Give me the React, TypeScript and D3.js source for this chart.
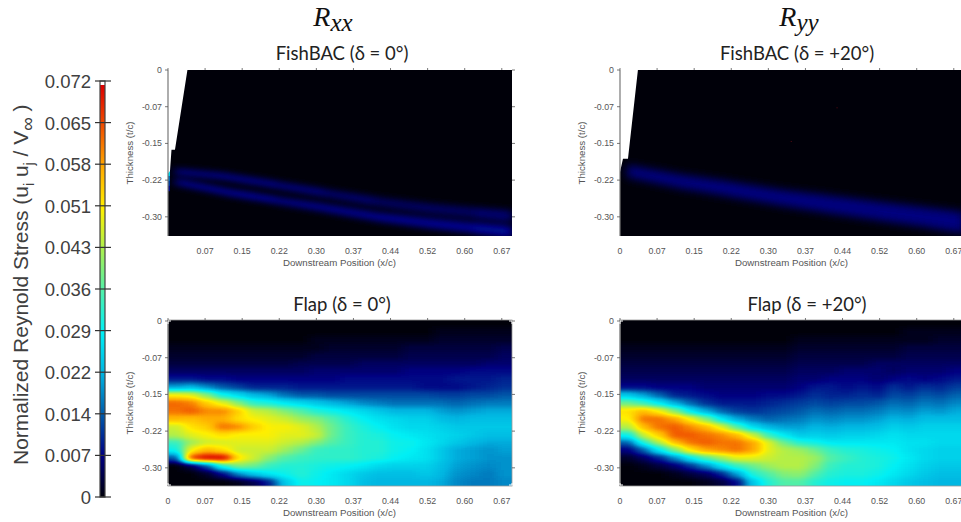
import React from "react";
import * as d3 from "d3";

// ---------- data (values in units of 0.001 normalized Reynolds stress) ----------
const colorbarTickLabels = ["0", "0.007", "0.014", "0.022", "0.029", "0.036", "0.043", "0.051", "0.058", "0.065", "0.072"];
const xTickLabels = ["0", "0.07", "0.15", "0.22", "0.30", "0.37", "0.44", "0.52", "0.60", "0.67"];
const yTickLabels = ["0", "-0.07", "-0.15", "-0.22", "-0.30"];
const tickStep = 0.0745;
const colormap = [
  [0, 0, 10], [0, 0, 130], [0, 90, 170], [0, 180, 225], [0, 240, 245], [80, 240, 170],
  [170, 240, 80], [255, 240, 0], [255, 170, 0], [240, 80, 0], [220, 0, 0],
];

const flapZero = [
  [0,0,0,0,0,0,0,0,0,0,0,0,0,0,0,0,0,0,0,0,0,0],
  [0,0,0,0,0,0,0,0,0,0,0,0,0,0,0,0,0,1,1,1,1,1],
  [0,0,0,0,0,0,0,0,0,1,1,1,1,1,1,1,1,2,2,2,2,2],
  [1,1,1,1,1,1,1,1,1,1,2,2,2,2,2,3,3,3,3,3,3,4],
  [2,2,2,2,2,2,2,2,2,3,3,3,3,3,3,4,4,4,4,4,4,5],
  [3,3,3,3,3,3,3,3,4,4,4,4,5,5,5,5,5,5,5,5,6,6],
  [5,5,5,5,5,5,5,5,5,6,6,6,6,6,6,7,7,7,7,8,8,8],
  [9,9,8,8,7,7,7,7,7,7,7,8,8,8,8,8,8,8,9,9,9,10],
  [20,22,18,14,12,10,10,10,9,9,9,9,9,9,9,9,8,8,8,9,10,11],
  [50,48,40,30,26,22,20,16,14,14,13,13,13,13,13,13,13,12,12,13,13,14],
  [63,61,54,48,40,33,31,28,26,24,22,20,18,17,16,16,16,16,15,16,17,17],
  [62,64,60,60,54,46,44,40,36,32,30,28,26,24,22,22,22,20,19,20,21,21],
  [56,55,57,57,52,50,48,46,42,40,36,32,29,27,26,25,25,23,22,23,23,23],
  [46,52,54,62,60,54,50,50,48,44,38,34,31,29,27,26,26,25,24,24,24,24],
  [44,48,50,52,50,50,50,48,48,46,38,34,32,31,29,28,27,26,25,24,23,23],
  [34,42,46,47,48,48,48,46,44,40,36,34,32,32,30,30,28,26,24,22,21,21],
  [30,50,56,52,46,46,46,42,38,34,33,33,32,32,30,29,27,24,21,20,19,20],
  [14,66,78,74,52,46,40,36,34,33,33,33,32,31,29,28,27,24,21,20,19,19],
  [0,4,14,32,40,38,34,32,32,31,30,29,28,26,25,25,25,23,20,19,18,19],
  [0,0,2,8,18,24,28,30,32,30,28,26,24,23,23,23,24,22,19,18,17,19],
  [0,0,0,0,1,4,10,24,30,29,28,26,23,22,22,22,22,21,18,17,17,18],
];

const flapTwenty = [
  [0,0,0,0,0,0,0,0,0,0,0,0,0,0,0,0,0,0,0,0,0,0],
  [0,0,0,0,0,0,0,0,0,0,0,0,0,0,0,0,0,0,1,1,1,1],
  [0,0,0,0,0,0,0,0,0,0,0,1,1,1,1,1,1,1,1,1,2,2],
  [1,1,1,1,1,1,1,1,1,1,1,2,2,2,2,2,2,2,3,3,3,3],
  [2,2,2,2,2,2,2,2,2,2,2,3,3,3,3,3,3,3,4,4,4,4],
  [3,3,3,3,3,3,3,3,3,3,3,4,4,4,4,4,5,5,5,5,5,5],
  [4,4,4,4,4,4,4,4,4,4,4,5,5,5,6,6,6,5,6,6,6,7],
  [5,5,5,5,5,5,5,5,5,5,5,6,6,7,7,7,6,7,8,7,8,9],
  [8,8,7,7,7,6,6,6,6,6,6,7,9,9,8,9,8,11,9,11,10,12],
  [24,20,15,10,9,8,7,7,7,8,8,9,11,10,10,11,10,13,12,14,13,15],
  [38,34,28,21,15,11,9,9,9,10,11,12,13,12,13,13,14,16,15,17,16,18],
  [52,56,50,40,28,21,15,12,11,12,13,14,16,15,16,16,17,19,18,20,19,21],
  [50,62,62,58,50,40,28,21,17,15,16,17,19,18,19,19,20,22,21,23,23,23],
  [44,56,62,64,60,56,48,36,26,22,20,20,22,21,22,22,23,25,24,25,25,25],
  [30,46,54,64,64,62,60,56,46,34,28,24,25,24,25,25,26,27,26,26,26,26],
  [15,32,44,56,62,64,62,62,58,48,38,32,30,28,28,28,28,28,27,27,26,26],
  [7,15,28,40,52,58,60,62,58,48,44,42,38,34,32,31,30,29,27,26,25,25],
  [2,5,10,18,28,36,42,48,48,46,44,44,42,36,34,32,31,30,28,26,25,25],
  [0,1,3,6,11,18,27,34,38,42,44,44,40,34,32,32,31,29,27,25,24,24],
  [0,0,0,1,3,5,10,20,32,36,40,41,36,32,31,31,30,28,26,24,23,23],
  [0,0,0,0,0,1,3,8,24,32,36,36,32,30,29,29,28,26,24,23,22,22],
];

const bandX = [0.014, 0.114, 0.215, 0.315, 0.416, 0.516, 0.616, 0.69];
const rxxUpperT = [-0.206, -0.216, -0.233, -0.25, -0.267, -0.28, -0.29, -0.297];
const rxxUpperV = [8, 8, 7, 6, 5, 5, 6, 7];
const rxxUpperSpread = [0.012, 0.013, 0.014, 0.016, 0.018, 0.02, 0.022, 0.024];
const rxxLowerT = [-0.2265, -0.247, -0.264, -0.28, -0.2975, -0.31, -0.321, -0.329];
const rxxLowerV = [9, 9, 8, 8, 8, 8, 9, 10];
const rxxLowerSpread = [0.012, 0.013, 0.014, 0.016, 0.018, 0.02, 0.022, 0.024];
const ryyT = [-0.205, -0.225, -0.241, -0.258, -0.272, -0.286, -0.299, -0.31];
const ryyV = [7, 7, 7, 7, 7, 7, 7, 8];
const ryySpread = [0.024, 0.028, 0.03, 0.032, 0.036, 0.038, 0.04, 0.044];

const rxxWedgeX = [0, 0.039, 0.014, 0.007, 0.004, 0];
const rxxWedgeT = [0, 0, -0.162, -0.162, -0.205, -0.21];
const ryyWedgeX = [0, 0.036, 0.016, 0.006, 0];
const ryyWedgeT = [0, 0, -0.18, -0.18, -0.207];
const ryySpeckX = [0.435, 0.343];
const ryySpeckT = [-0.0757, -0.144];
const rxxEdgeT = [-0.205, -0.215, -0.225, -0.235];
const rxxEdgeV = [26, 16, 12, 8];

// ---------- layout ----------
const W = 344, H = 166;
const x = d3.scaleLinear().domain([0, 0.691]).range([0, W]);
const y = d3.scaleLinear().domain([0, -0.3369]).range([0, H]);
const gray = (v: number) => { const g = Math.round((255 * v) / 72); return `rgb(${g},${g},${g})`; };
const colorAt = (v: number) => {
  const f = Math.min(9.999, (v / 72) * 10), i = Math.floor(f), t = f - i;
  const c = d3.range(3).map((k) => Math.round(colormap[i][k] * (1 - t) + colormap[i + 1][k] * t));
  return `rgb(${c[0]},${c[1]},${c[2]})`;
};
const tableOf = (k: number) => colormap.map((c) => (c[k] / 255).toFixed(3)).join(" ");

const TICK = "#555";
const ARIAL = "'Liberation Sans', Arial, sans-serif";
const TITLE = "Lato, 'Open Sans', sans-serif";

function ColorFilter({ id, sx, sy }: { id: string; sx: number; sy: number }) {
  return (
    <filter id={id} filterUnits="userSpaceOnUse" x={-40} y={-40} width={W + 80} height={H + 80} colorInterpolationFilters="sRGB">
      <feGaussianBlur stdDeviation={`${sx} ${sy}`} />
      <feComponentTransfer>
        <feFuncR type="table" tableValues={tableOf(0)} />
        <feFuncG type="table" tableValues={tableOf(1)} />
        <feFuncB type="table" tableValues={tableOf(2)} />
      </feComponentTransfer>
    </filter>
  );
}

function Grid({ rows }: { rows: number[][] }) {
  const cx = d3.scaleLinear().domain([0, rows[0].length]).range([0, W]);
  const cy = d3.scaleLinear().domain([0, rows.length]).range([-1, H - 1]);
  return (
    <g shapeRendering="crispEdges">
      {rows.flatMap((row, r) =>
        row.map((v, c) => {
          const x0 = c === 0 ? -30 : Math.round(cx(c));
          const x1 = c === row.length - 1 ? W + 30 : Math.round(cx(c + 1));
          const y0 = r === 0 ? -30 : Math.round(cy(r));
          const y1 = r === rows.length - 1 ? H + 30 : Math.round(cy(r + 1));
          return <rect key={`${r}-${c}`} x={x0} y={y0} width={x1 - x0} height={y1 - y0} fill={gray(v)} />;
        })
      )}
    </g>
  );
}

function Band({ ts, vs, spread }: { ts: number[]; vs: number[]; spread: number[] }) {
  const px = (k: number) => ({ X: x(bandX[k]), T: y(ts[k]), S: (y(-spread[k]) - y(0)) / 2 });
  return (
    <g style={{ mixBlendMode: "lighten" }}>
      {bandX.slice(0, -1).map((_, k) => {
        const a = px(k), b = px(k + 1);
        const pts = `${a.X},${a.T - a.S} ${b.X + 1},${b.T - b.S} ${b.X + 1},${b.T + b.S} ${a.X},${a.T + a.S}`;
        return <polygon key={k} points={pts} fill={gray(vs[k])} />;
      })}
    </g>
  );
}

function Panel({ px, py, title, titleX, titleY, showZero, clipId, children, frame }: any) {
  return (
    <g>
      <text x={titleX} y={titleY} textAnchor="middle" fontFamily={TITLE} fontSize={18.5} fill="#222">{title}</text>
      <g transform={`translate(${px},${py})`}>
        <clipPath id={clipId}><rect x={0} y={frame ? -1 : 0} width={W} height={H} /></clipPath>
        <g clipPath={`url(#${clipId})`}>{children}</g>
        {/* frame */}
        <line x1={0} x2={0} y1={frame ? -1 : 0} y2={frame ? H - 1 : H} stroke="#777" strokeWidth={1.2} />
        {frame && <rect x={0} y={-1} width={W} height={H} fill="none" stroke="#999" strokeWidth={0.8} />}
        {frame && [[3, -1, 0, 0, 0, 3], [W - 3, -1, W, 0, W, 3], [3, H - 1, 0, H - 2, 0, H - 4], [W - 3, H - 1, W, H - 2, W, H - 4]].map((p, i) => (
          <polyline key={i} points={`${p[0]},${p[1] + (i < 2 ? 1 : -1)} ${p[2]},${p[3]} ${p[4]},${p[5]}`} fill="none" stroke="#fff" strokeWidth={1} />
        ))}
        {/* y axis */}
        {yTickLabels.map((t, i) => {
          const yy = y(-i * tickStep);
          return (
            <g key={t}>
              <line x1={-3} x2={0} y1={yy} y2={yy} stroke={TICK} strokeWidth={0.8} />
              <line x1={W} x2={W + 3} y1={yy} y2={yy} stroke={TICK} strokeWidth={0.8} />
              <text x={-6} y={yy + 3} textAnchor="end" fontFamily={ARIAL} fontSize={8.8} fill="#555">{t}</text>
            </g>
          );
        })}
        {/* x axis */}
        {xTickLabels.map((t, i) => {
          const xx = x(i * tickStep);
          return (
            <g key={t}>
              <line x1={xx} x2={xx} y1={frame ? -3 : -2} y2={frame ? -1 : 0} stroke={TICK} strokeWidth={0.8} />
              {(i > 0 || showZero) && (
                <text x={xx} y={H + 18 - (frame ? 1 : 0)} textAnchor="middle" fontFamily={ARIAL} fontSize={8.8} fill="#555">{t}</text>
              )}
            </g>
          );
        })}
        <text x={x(5 * tickStep) - 14} y={H + 30 - (frame ? 1 : 0)} textAnchor="middle" fontFamily={ARIAL} fontSize={9.7} fill="#555">Downstream Position (x/c)</text>
        <text transform={`translate(-35,${H / 2 + (frame ? -1 : 0)}) rotate(-90)`} textAnchor="middle" fontFamily={ARIAL} fontSize={9.7} fill="#555">Thickness (t/c)</text>
      </g>
    </g>
  );
}

function Wedge({ xs, ts }: { xs: number[]; ts: number[] }) {
  return <polygon points={xs.map((v, i) => `${x(v)},${y(ts[i])}`).join(" ")} fill="#fff" />;
}

function Colorbar() {
  const top = 81, bottom = 497, cbx = 100, cbw = 5;
  const cy = d3.scaleLinear().domain([0, 10]).range([bottom, top]);
  const stops = colormap.map((c, i) => (
    <stop key={i} offset={`${(i / 10) * 0.99 * 100}%`} stopColor={`rgb(${c[0]},${c[1]},${c[2]})`} />
  ));
  return (
    <g>
      <defs>
        <linearGradient id="cb" x1="0" x2="0" y1="1" y2="0">
          {stops}
          <stop offset="99%" stopColor="#dc0000" />
          <stop offset="99%" stopColor="#fff" />
          <stop offset="100%" stopColor="#fff" />
        </linearGradient>
      </defs>
      <rect x={cbx} y={top} width={cbw} height={bottom - top} fill="url(#cb)" stroke="#444" strokeWidth={1.2} />
      {colorbarTickLabels.map((t, i) => (
        <g key={t}>
          <line x1={95} x2={111} y1={cy(i)} y2={cy(i)} stroke="#333" strokeWidth={1.2} />
          <text x={91} y={cy(i) + 7} textAnchor="end" fontFamily={ARIAL} fontSize={18.5} fill="#404040">{t}</text>
        </g>
      ))}
      <text transform="translate(28,465) rotate(-90)" fontFamily={ARIAL} fontSize={21} fill="#404040">
        Normalized Reynold Stress (u
        <tspan dy={6} fontSize={14}>i</tspan>
        <tspan dy={-6}> u</tspan>
        <tspan dy={6} fontSize={14}>j</tspan>
        <tspan dy={-6}> / V</tspan>
        <tspan dy={6} fontSize={19}>∞</tspan>
        <tspan dy={-6}> )</tspan>
      </text>
    </g>
  );
}

function Header({ cx, sub }: { cx: number; sub: string }) {
  return (
    <text x={cx} y={26} textAnchor="middle" fontFamily="'Liberation Serif', serif" fontStyle="italic" fill="#111">
      <tspan fontSize={28}>R</tspan><tspan dy={5} fontSize={25}>{sub}</tspan>
    </text>
  );
}

export default function App() {
  return (
    <svg width={961} height={522} style={{ position: "absolute", left: 0, top: 0, background: "#fff" }}>
      <defs>
        <ColorFilter id="fWake" sx={5} sy={3} />
        <ColorFilter id="fWakeWide" sx={5} sy={4.5} />
        <ColorFilter id="fFlap" sx={5.5} sy={2.6} />
      </defs>
      <Header cx={333} sub="xx" />
      <Header cx={799} sub="yy" />
      <Colorbar />

      <Panel px={168} py={70} title="FishBAC (δ = 0°)" titleX={342} titleY={60} clipId="c1">
        <g filter="url(#fWake)">
          <rect x={-40} y={-40} width={W + 80} height={H + 80} fill="#000" />
          <Band ts={rxxUpperT} vs={rxxUpperV} spread={rxxUpperSpread} />
          <Band ts={rxxLowerT} vs={rxxLowerV} spread={rxxLowerSpread} />
        </g>
        {rxxEdgeT.map((t, i) => (
          <rect key={i} x={x(0)} y={y(t)} width={x(0.004)} height={y(0.01) * -1 + 0.5} fill={colorAt(rxxEdgeV[i])} />
        ))}
        <Wedge xs={rxxWedgeX} ts={rxxWedgeT} />
      </Panel>

      <Panel px={620} py={70} title="FishBAC (δ = +20°)" titleX={797} titleY={60} showZero clipId="c2">
        <g filter="url(#fWakeWide)">
          <rect x={-40} y={-40} width={W + 80} height={H + 80} fill="#000" />
          <Band ts={ryyT} vs={ryyV} spread={ryySpread} />
        </g>
        <Wedge xs={ryyWedgeX} ts={ryyWedgeT} />
        {ryySpeckX.map((v, i) => <rect key={i} x={x(v)} y={y(ryySpeckT[i])} width={1} height={1} fill="#5a0a14" />)}
      </Panel>

      <Panel px={168} py={321} title="Flap (δ = 0°)" titleX={342} titleY={311} showZero clipId="c3" frame>
        <g filter="url(#fFlap)"><Grid rows={flapZero} /></g>
      </Panel>

      <Panel px={620} py={321} title="Flap (δ = +20°)" titleX={807} titleY={311} showZero clipId="c4" frame>
        <g filter="url(#fFlap)"><Grid rows={flapTwenty} /></g>
      </Panel>
    </svg>
  );
}
